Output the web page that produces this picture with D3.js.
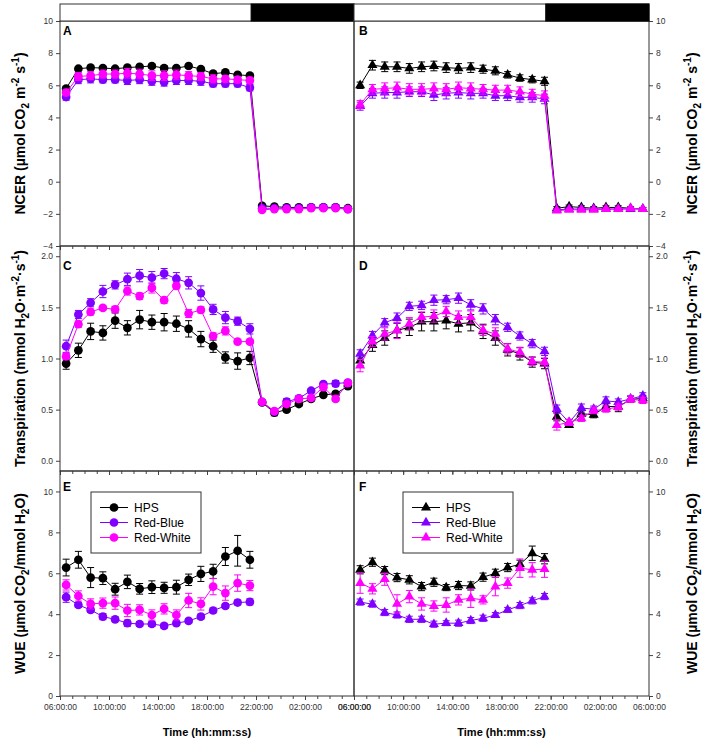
<!DOCTYPE html>
<html>
<head>
<meta charset="utf-8">
<script src="https://cdn.jsdelivr.net/npm/d3@7"></script>
<style>
  body { margin: 0; background: #fff; }
  svg text { font-family: "Liberation Sans", Arial, sans-serif; }
</style>
</head>
<body>
<svg id="chart" width="708" height="741"></svg>
<script>
// readings logged hourly, at half past the hour, starting after lights on
var times = ["06:30","07:30","08:30","09:30","10:30","11:30","12:30","13:30",
             "14:30","15:30","16:30","17:30","18:30","19:30","20:30","21:30",
             "22:30","23:30","00:30","01:30","02:30","03:30","04:30","05:30"];
var lightsOn = "06:00", lightsOff = "21:36";

var seriesNames = ["HPS", "Red-Blue", "Red-White"];
var seriesColors = ["#000000", "#8000ff", "#ff00ff"];

// NCER, left (circles)
var ncer1Hps = [5.8,7.03,7.1,7.07,7.03,7.1,7.15,7.2,7.07,7.07,7.2,7.0,6.72,6.8,6.65,6.6,-1.5,-1.55,-1.6,-1.6,-1.6,-1.6,-1.6,-1.65];
var ncer1Rb  = [5.27,6.35,6.4,6.35,6.35,6.3,6.35,6.25,6.2,6.3,6.3,6.25,6.1,6.1,6.1,5.85,-1.65,-1.65,-1.65,-1.65,-1.6,-1.6,-1.6,-1.7];
var ncer1Rw  = [5.55,6.55,6.6,6.7,6.7,6.75,6.7,6.6,6.6,6.65,6.6,6.55,6.4,6.4,6.35,6.3,-1.75,-1.7,-1.7,-1.7,-1.65,-1.65,-1.65,-1.7];
var ncer1HpsErr = [0.12,0.12,0.12,0.1,0.1,0.1,0.12,0.12,0.15,0.12,0.12,0.1,0.1,0.1,0.1,0.1,0.05,0.05,0.05,0.05,0.05,0.05,0.05,0.05];
var ncer1RbErr  = [0.2,0.25,0.25,0.2,0.2,0.25,0.25,0.25,0.25,0.25,0.25,0.25,0.2,0.2,0.2,0.2,0.08,0.08,0.08,0.08,0.08,0.08,0.08,0.08];
var ncer1RwErr  = [0.2,0.25,0.25,0.25,0.25,0.3,0.3,0.3,0.3,0.3,0.25,0.25,0.25,0.2,0.2,0.2,0.08,0.08,0.08,0.08,0.08,0.08,0.08,0.08];

// NCER, right (triangles)
var ncer2Hps = [6.0,7.25,7.15,7.15,7.05,7.15,7.2,7.1,7.05,7.1,7.0,6.9,6.65,6.45,6.35,6.25,-1.65,-1.55,-1.6,-1.65,-1.6,-1.6,-1.65,-1.7];
var ncer2Rb  = [4.7,5.5,5.55,5.55,5.6,5.6,5.4,5.5,5.55,5.5,5.5,5.35,5.35,5.25,5.25,5.15,-1.75,-1.7,-1.7,-1.7,-1.7,-1.7,-1.7,-1.7];
var ncer2Rw  = [4.8,5.75,5.8,5.85,5.75,5.75,5.8,5.75,5.85,5.8,5.75,5.7,5.7,5.6,5.45,5.35,-1.8,-1.75,-1.75,-1.75,-1.7,-1.7,-1.65,-1.7];
var ncer2HpsErr = [0.2,0.3,0.3,0.3,0.3,0.3,0.3,0.3,0.3,0.3,0.25,0.25,0.2,0.2,0.2,0.25,0.1,0.1,0.1,0.1,0.1,0.1,0.1,0.1];
var ncer2RbErr  = [0.25,0.3,0.35,0.35,0.3,0.3,0.35,0.35,0.35,0.35,0.3,0.3,0.3,0.3,0.3,0.3,0.08,0.08,0.08,0.08,0.08,0.08,0.08,0.08];
var ncer2RwErr  = [0.25,0.3,0.35,0.35,0.35,0.35,0.35,0.35,0.35,0.35,0.3,0.3,0.3,0.3,0.3,0.3,0.08,0.08,0.08,0.08,0.08,0.08,0.08,0.08];

// transpiration, left
var tr1Hps = [0.95,1.08,1.265,1.25,1.37,1.30,1.38,1.355,1.355,1.34,1.29,1.19,1.12,1.01,0.975,1.005,0.57,0.47,0.50,0.555,0.605,0.645,0.655,0.73];
var tr1Rb  = [1.12,1.43,1.545,1.655,1.72,1.775,1.81,1.79,1.83,1.78,1.74,1.64,1.48,1.40,1.365,1.29,0.575,0.48,0.578,0.61,0.685,0.75,0.755,0.765];
var tr1Rw  = [1.02,1.335,1.455,1.495,1.48,1.66,1.61,1.69,1.57,1.71,1.44,1.475,1.22,1.27,1.165,1.165,0.575,0.485,0.555,0.605,0.615,0.72,0.605,0.76];
var tr1HpsErr = [0.055,0.07,0.08,0.07,0.075,0.07,0.09,0.07,0.085,0.075,0.08,0.075,0.06,0.055,0.08,0.065,0.02,0.03,0.02,0.02,0.02,0.02,0.02,0.02];
var tr1RbErr  = [0.06,0.04,0.04,0.06,0.04,0.06,0.06,0.06,0.05,0.06,0.06,0.07,0.05,0.06,0.04,0.05,0.02,0.02,0.03,0.02,0.02,0.02,0.03,0.02];
var tr1RwErr  = [0.03,0.03,0.03,0.02,0.03,0.04,0.03,0.05,0.03,0.03,0.04,0.03,0.03,0.04,0.02,0.02,0.02,0.02,0.02,0.03,0.02,0.03,0.02,0.02];

// transpiration, right
var tr2Hps = [0.98,1.13,1.20,1.275,1.305,1.36,1.36,1.37,1.34,1.35,1.265,1.20,1.085,1.045,0.965,0.95,0.43,0.35,0.46,0.45,0.53,0.53,0.60,0.61];
var tr2Rb  = [1.045,1.225,1.35,1.395,1.51,1.52,1.57,1.575,1.59,1.525,1.485,1.38,1.305,1.22,1.145,1.07,0.505,0.375,0.515,0.505,0.585,0.575,0.605,0.635];
var tr2Rw  = [0.93,1.165,1.24,1.275,1.34,1.405,1.415,1.46,1.405,1.405,1.275,1.24,1.095,1.06,0.97,0.965,0.35,0.375,0.415,0.49,0.505,0.525,0.60,0.59];
var tr2HpsErr = [0.05,0.06,0.07,0.07,0.08,0.09,0.09,0.08,0.08,0.08,0.07,0.07,0.06,0.06,0.05,0.05,0.04,0.02,0.03,0.03,0.03,0.05,0.03,0.03];
var tr2RbErr  = [0.04,0.04,0.04,0.05,0.04,0.04,0.05,0.04,0.05,0.05,0.05,0.05,0.04,0.04,0.04,0.04,0.04,0.03,0.04,0.03,0.04,0.03,0.03,0.03];
var tr2RwErr  = [0.06,0.05,0.06,0.08,0.06,0.05,0.06,0.05,0.06,0.06,0.05,0.06,0.05,0.05,0.04,0.04,0.05,0.03,0.03,0.03,0.03,0.03,0.03,0.03];

// WUE (daytime only), left
var wue1Hps = [6.28,6.66,5.79,5.76,5.22,5.58,5.24,5.32,5.29,5.32,5.68,5.97,6.09,6.82,7.10,6.66];
var wue1Rb  = [4.83,4.45,4.21,3.88,3.75,3.56,3.52,3.52,3.43,3.56,3.67,3.88,4.18,4.40,4.57,4.60];
var wue1Rw  = [5.43,4.89,4.50,4.54,4.54,4.18,4.21,3.96,4.26,3.96,4.67,4.50,5.35,5.03,5.52,5.40];
var wue1HpsErr = [0.41,0.41,0.49,0.31,0.29,0.33,0.26,0.31,0.27,0.34,0.28,0.37,0.35,0.44,0.75,0.41];
var wue1RbErr  = [0.25,0.12,0.12,0.15,0.12,0.15,0.12,0.12,0.12,0.12,0.1,0.12,0.12,0.12,0.12,0.15];
var wue1RwErr  = [0.25,0.25,0.25,0.25,0.3,0.3,0.25,0.25,0.25,0.25,0.35,0.3,0.4,0.35,0.4,0.25];

// WUE, right
var wue2Hps = [6.17,6.54,6.13,5.79,5.68,5.35,5.56,5.30,5.40,5.38,5.81,6.0,6.28,6.44,6.98,6.71];
var wue2Rb  = [4.59,4.49,4.08,3.96,3.75,3.75,3.51,3.56,3.56,3.69,3.80,3.96,4.21,4.42,4.65,4.86];
var wue2Rw  = [5.52,5.24,5.71,4.50,4.86,4.50,4.40,4.45,4.70,4.78,4.70,5.35,5.52,6.25,6.17,6.20];
var wue2HpsErr = [0.2,0.2,0.2,0.2,0.2,0.2,0.2,0.15,0.2,0.2,0.2,0.2,0.2,0.2,0.35,0.25];
var wue2RbErr  = [0.15,0.15,0.15,0.15,0.15,0.15,0.15,0.12,0.15,0.15,0.15,0.12,0.12,0.15,0.15,0.15];
var wue2RwErr  = [0.5,0.25,0.3,0.45,0.3,0.3,0.25,0.35,0.25,0.45,0.2,0.45,0.25,0.45,0.35,0.4];

var ncerTicks = [-4,-2,0,2,4,6,8,10];
var trTicks = [0,0.5,1,1.5,2];
var wueTicks = [0,2,4,6,8,10];

// axis titles as [text, "sub"/"sup"/""] pieces
var ncerTitle = [["NCER (\u00b5mol CO",""],["2","sub"],[" m",""],["-2","sup"],[" s",""],["-1","sup"],[")",""]];
var trTitle = [["Transpiration (mmol H",""],["2","sub"],["O\u00b7m",""],["-2","sup"],["\u00b7s",""],["-1","sup"],[")",""]];
var wueTitle = [["WUE (\u00b5mol CO",""],["2","sub"],["/mmol H",""],["2","sub"],["O)",""]];

function toDate(s) {
  var p = s.split(":");
  var h = +p[0];
  return new Date(2000, 0, h < 6 ? 2 : 1, h, +p[1]);
}

var svg = d3.select("#chart");
var t0 = toDate(lightsOn), t1 = new Date(2000, 0, 2, 6, 0);

function richText(sel, parts) {
  var shift = 0;
  parts.forEach(function(p) {
    var target = p[1] == "sub" ? 4 : (p[1] == "sup" ? -6 : 0);
    sel.append("tspan")
      .attr("dy", target - shift)
      .attr("font-size", p[1] ? 10 : null)
      .text(p[0]);
    shift = target;
  });
}

function drawPanel(o) {
  var x = d3.scaleTime().domain([t0, t1]).range([o.x0, o.x1]);
  var y = d3.scaleLinear().domain(o.domain).range([o.y1, o.y0]);
  var g = svg.append("g");

  // hourly minor ticks, 4-hourly major ticks pointing down
  var hours = d3.timeHour.range(t0, new Date(+t1 + 1));
  var minor = d3.axisBottom(x).tickValues(hours).tickSize(3).tickFormat("");
  g.append("g").attr("transform", "translate(0," + o.y1 + ")").call(minor)
    .call(function(a) { a.select(".domain").remove(); a.selectAll("line").attr("stroke", "#444"); });
  var major = d3.axisBottom(x).tickValues(hours.filter(function(d, i) { return i % 4 == 0; }))
    .tickSize(4).tickPadding(4)
    .tickFormat(o.xLabels ? d3.timeFormat("%H:%M:%S") : "");
  g.append("g").attr("transform", "translate(0," + o.y1 + ")").call(major)
    .call(function(a) {
      a.select(".domain").remove();
      a.selectAll("line").attr("stroke", "#444");
      a.selectAll("text").attr("font-size", 8.5).attr("fill", "#333")
        .attr("font-family", "Liberation Sans, Arial, sans-serif");
    });

  var yAxis = (o.side == "left" ? d3.axisLeft(y) : d3.axisRight(y))
    .tickValues(o.ticks).tickSize(4).tickPadding(3).tickFormat(o.fmt);
  g.append("g").attr("transform", "translate(" + (o.side == "left" ? o.x0 : o.x1) + ",0)").call(yAxis)
    .call(function(a) {
      a.select(".domain").remove();
      a.selectAll("line").attr("stroke", "#444");
      a.selectAll("text").attr("font-size", 8.5).attr("fill", "#333")
        .attr("font-family", "Liberation Sans, Arial, sans-serif");
    });

  g.append("rect").attr("x", o.x0).attr("y", o.y0)
    .attr("width", o.x1 - o.x0).attr("height", o.y1 - o.y0)
    .attr("fill", "none").attr("stroke", "#333").attr("stroke-width", 1);

  var shape = o.shape == "circle" ? d3.symbolCircle : d3.symbolTriangle;
  var size = o.shape == "circle" ? 60 : 44;

  o.values.forEach(function(vals, s) {
    var pts = vals.map(function(v, i) { return { t: toDate(times[i]), v: v, e: o.errors[s][i] }; });
    var col = seriesColors[s];
    var sg = g.append("g");
    sg.append("path").datum(pts)
      .attr("fill", "none").attr("stroke", col).attr("stroke-width", 1)
      .attr("d", d3.line().x(function(d) { return x(d.t); }).y(function(d) { return y(d.v); }));
    var eb = sg.selectAll(".eb").data(pts).enter().append("g").attr("stroke", col).attr("stroke-width", 1);
    eb.append("line")
      .attr("x1", function(d) { return x(d.t); }).attr("x2", function(d) { return x(d.t); })
      .attr("y1", function(d) { return y(d.v - d.e); }).attr("y2", function(d) { return y(d.v + d.e); });
    eb.append("line")
      .attr("x1", function(d) { return x(d.t) - 3.5; }).attr("x2", function(d) { return x(d.t) + 3.5; })
      .attr("y1", function(d) { return y(d.v + d.e); }).attr("y2", function(d) { return y(d.v + d.e); });
    eb.append("line")
      .attr("x1", function(d) { return x(d.t) - 3.5; }).attr("x2", function(d) { return x(d.t) + 3.5; })
      .attr("y1", function(d) { return y(d.v - d.e); }).attr("y2", function(d) { return y(d.v - d.e); });
    sg.selectAll(".pt").data(pts).enter().append("path")
      .attr("d", d3.symbol().type(shape).size(size))
      .attr("transform", function(d) { return "translate(" + x(d.t) + "," + y(d.v) + ")"; })
      .attr("fill", col);
  });

  g.append("text").attr("x", o.x0 + (o.side == "left" ? 3 : 5)).attr("y", o.letterY)
    .attr("font-size", 12).attr("font-weight", "bold").text(o.letter);

  var tx = o.side == "left" ? 25 : 697;
  var title = g.append("text")
    .attr("transform", "translate(" + tx + "," + ((o.y0 + o.y1) / 2) + ") rotate(-90)")
    .attr("text-anchor", "middle").attr("font-size", 14).attr("font-weight", "bold");
  richText(title, o.title);

  if (o.legend) {
    var lg = g.append("g").attr("transform", "translate(" + o.legend[0] + "," + o.legend[1] + ")");
    lg.append("rect").attr("width", 110).attr("height", 61)
      .attr("fill", "#fff").attr("stroke", "#333").attr("stroke-width", 1);
    seriesNames.forEach(function(name, s) {
      var ly = 15.5 + s * 15;
      lg.append("line").attr("x1", 9).attr("x2", 37).attr("y1", ly).attr("y2", ly)
        .attr("stroke", seriesColors[s]).attr("stroke-width", 1);
      lg.append("path").attr("d", d3.symbol().type(shape).size(size))
        .attr("transform", "translate(23," + ly + ")").attr("fill", seriesColors[s]);
      lg.append("text").attr("x", 43).attr("y", ly + 4.3).attr("font-size", 12).text(name);
    });
  }

  if (o.xLabels) {
    g.append("text").attr("x", (o.x0 + o.x1) / 2).attr("y", 735.5)
      .attr("text-anchor", "middle").attr("font-size", 11).attr("font-weight", "bold")
      .text("Time (hh:mm:ss)");
  }

  if (o.photoperiod) {
    g.append("rect").attr("x", o.x0).attr("y", 4).attr("width", o.x1 - o.x0).attr("height", o.y0 - 4)
      .attr("fill", "#fff").attr("stroke", "#333");
    g.append("rect").attr("x", x(toDate(lightsOff))).attr("y", 4)
      .attr("width", o.x1 - x(toDate(lightsOff))).attr("height", o.y0 - 4)
      .attr("fill", "#000").attr("stroke", "#000");
  }
}

var fmtInt = d3.format("d"), fmt1 = d3.format(".1f");
var L = { x0: 60, x1: 354, side: "left", shape: "circle" };
var R = { x0: 354, x1: 649, side: "right", shape: "triangle" };

var rows = [
  { y0: 21, y1: 246, domain: [-4, 10], ticks: ncerTicks, fmt: fmtInt, title: ncerTitle, letterY: 35, photoperiod: true,
    left: { letter: "A", values: [ncer1Hps, ncer1Rb, ncer1Rw], errors: [ncer1HpsErr, ncer1RbErr, ncer1RwErr] },
    right: { letter: "B", values: [ncer2Hps, ncer2Rb, ncer2Rw], errors: [ncer2HpsErr, ncer2RbErr, ncer2RwErr] } },
  { y0: 246, y1: 471, domain: [-0.1, 2.1], ticks: trTicks, fmt: fmt1, title: trTitle, letterY: 270,
    left: { letter: "C", values: [tr1Hps, tr1Rb, tr1Rw], errors: [tr1HpsErr, tr1RbErr, tr1RwErr] },
    right: { letter: "D", values: [tr2Hps, tr2Rb, tr2Rw], errors: [tr2HpsErr, tr2RbErr, tr2RwErr] } },
  { y0: 471, y1: 696, domain: [0, 11], ticks: wueTicks, fmt: fmtInt, title: wueTitle, letterY: 491, xLabels: true,
    left: { letter: "E", legend: [91, 492], values: [wue1Hps, wue1Rb, wue1Rw], errors: [wue1HpsErr, wue1RbErr, wue1RwErr] },
    right: { letter: "F", legend: [403, 492], values: [wue2Hps, wue2Rb, wue2Rw], errors: [wue2HpsErr, wue2RbErr, wue2RwErr] } }
];

rows.forEach(function(r) {
  [[L, r.left], [R, r.right]].forEach(function(pair) {
    var o = Object.assign({}, pair[0], r, pair[1]);
    drawPanel(o);
  });
});
</script>
</body>
</html>
